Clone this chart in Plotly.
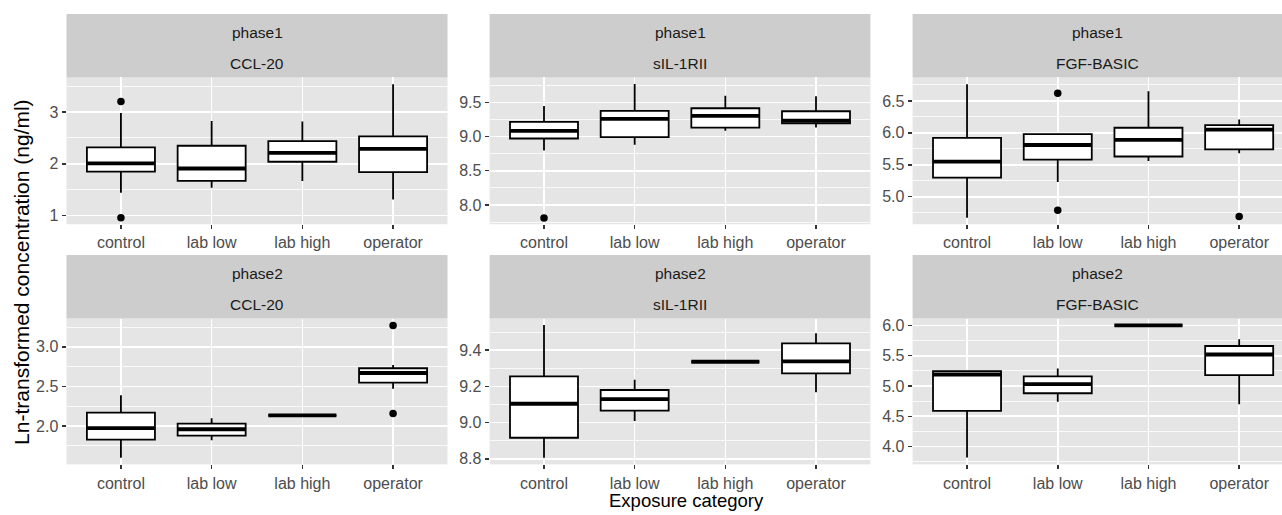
import plotly.graph_objects as go

W, H = 1282, 515

categories = ["control", "lab low", "lab high", "operator"]
cat_pos = [1, 2, 3, 4]

phases = ["phase1", "phase1", "phase1", "phase2", "phase2", "phase2"]
analytes = ["CCL-20", "sIL-1RII", "FGF-BASIC", "CCL-20", "sIL-1RII", "FGF-BASIC"]

# ---- box statistics per panel: [control, lab low, lab high, operator] ----
p1_lower = [1.44, 1.54, 1.67, 1.31]
p1_q1 = [1.85, 1.67, 2.04, 1.84]
p1_med = [2.01, 1.91, 2.21, 2.29]
p1_q3 = [2.32, 2.35, 2.44, 2.53]
p1_upper = [2.98, 2.83, 2.82, 3.54]
p1_out_x = ["control", "control"]
p1_out_y = [3.205, 0.96]

p2_lower = [8.796, 8.879, 9.083, 9.131]
p2_q1 = [8.971, 8.99, 9.131, 9.194]
p2_med = [9.083, 9.257, 9.301, 9.233]
p2_q3 = [9.214, 9.374, 9.413, 9.369]
p2_upper = [9.447, 9.767, 9.597, 9.587]
p2_out_x = ["control"]
p2_out_y = [7.81]

p3_lower = [4.67, 5.23, 5.56, 5.68]
p3_q1 = [5.30, 5.58, 5.63, 5.74]
p3_med = [5.55, 5.81, 5.89, 6.05]
p3_q3 = [5.92, 5.98, 6.08, 6.12]
p3_upper = [6.76, 5.98, 6.65, 6.21]
p3_out_x = ["lab low", "lab low", "operator"]
p3_out_y = [6.62, 4.79, 4.69]

p4_lower = [1.60, 1.82, 2.135, 2.47]
p4_q1 = [1.83, 1.88, 2.135, 2.55]
p4_med = [1.975, 1.96, 2.135, 2.67]
p4_q3 = [2.17, 2.03, 2.135, 2.73]
p4_upper = [2.39, 2.10, 2.135, 2.77]
p4_out_x = ["operator", "operator"]
p4_out_y = [3.27, 2.16]

p5_lower = [8.805, 9.009, 9.336, 9.168]
p5_q1 = [8.916, 9.066, 9.336, 9.272]
p5_med = [9.104, 9.13, 9.336, 9.338]
p5_q3 = [9.255, 9.18, 9.336, 9.438]
p5_upper = [9.539, 9.237, 9.336, 9.493]
p5_out_x = []
p5_out_y = []

p6_lower = [3.82, 4.74, 6.0, 4.70]
p6_q1 = [4.59, 4.88, 6.0, 5.18]
p6_med = [5.19, 5.03, 6.0, 5.52]
p6_q3 = [5.245, 5.16, 6.0, 5.66]
p6_upper = [5.26, 5.29, 6.0, 5.77]
p6_out_x = []
p6_out_y = []

# ---- y tick values / labels per panel ----
p1_ticks = [1, 2, 3]
p1_ticklabels = ["1", "2", "3"]
p2_ticks = [8.0, 8.5, 9.0, 9.5]
p2_ticklabels = ["8.0", "8.5", "9.0", "9.5"]
p3_ticks = [5.0, 5.5, 6.0, 6.5]
p3_ticklabels = ["5.0", "5.5", "6.0", "6.5"]
p4_ticks = [2.0, 2.5, 3.0]
p4_ticklabels = ["2.0", "2.5", "3.0"]
p5_ticks = [8.8, 9.0, 9.2, 9.4]
p5_ticklabels = ["8.8", "9.0", "9.2", "9.4"]
p6_ticks = [4.0, 4.5, 5.0, 5.5, 6.0]
p6_ticklabels = ["4.0", "4.5", "5.0", "5.5", "6.0"]

panels = [
    (p1_lower, p1_q1, p1_med, p1_q3, p1_upper, p1_out_x, p1_out_y, p1_ticks, p1_ticklabels),
    (p2_lower, p2_q1, p2_med, p2_q3, p2_upper, p2_out_x, p2_out_y, p2_ticks, p2_ticklabels),
    (p3_lower, p3_q1, p3_med, p3_q3, p3_upper, p3_out_x, p3_out_y, p3_ticks, p3_ticklabels),
    (p4_lower, p4_q1, p4_med, p4_q3, p4_upper, p4_out_x, p4_out_y, p4_ticks, p4_ticklabels),
    (p5_lower, p5_q1, p5_med, p5_q3, p5_upper, p5_out_x, p5_out_y, p5_ticks, p5_ticklabels),
    (p6_lower, p6_q1, p6_med, p6_q3, p6_upper, p6_out_x, p6_out_y, p6_ticks, p6_ticklabels),
]

# ---- layout geometry (pixels) ----
col_px = [(66.5, 447.5), (489.6, 870.4), (912.6, 1282.0)]
col_xrange = [[0.4, 4.6], [0.4, 4.6], [0.4, 4.472]]
row_plot_px = [(77, 225), (320, 467)]
row_strip_px = [(13, 77), (256, 320)]
y_ranges = [[0.833, 3.67], [7.718, 9.864], [4.569, 6.868],
            [1.517, 3.358], [8.769, 9.575], [3.706, 6.114]]

BOX_W = 0.75
FAMILY = "Liberation Sans, Arial, sans-serif"
TICK_FONT = dict(family=FAMILY, size=16, color="#4d4d4d")
STRIP_FONT = dict(family=FAMILY, size=15.5, color="#1a1a1a")
PANEL_BG = "#e5e5e5"
STRIP_BG = "#cdcdcd"


def px_x(v):
    return v / W


def px_y(v):
    return 1 - v / H


fig = go.Figure()
layout = {}
shapes = []
annotations = []

for i, (lo, q1, med, q3, up, ox, oy, ticks, ticklabels) in enumerate(panels):
    r, c = divmod(i, 3)
    sfx = "" if i == 0 else str(i + 1)
    xa, ya = "x" + sfx, "y" + sfx

    fig.add_trace(go.Box(
        x=cat_pos, q1=q1, median=med, q3=q3, lowerfence=lo, upperfence=up,
        width=BOX_W, whiskerwidth=0, boxpoints=False,
        fillcolor="white", line=dict(color="black", width=1.8),
        xaxis=xa, yaxis=ya, showlegend=False, hoverinfo="skip",
    ))
    # thick median line (ggplot fatten)
    mx, my = [], []
    for p, m in zip(cat_pos, med):
        mx += [p - BOX_W / 2, p + BOX_W / 2, None]
        my += [m, m, None]
    fig.add_trace(go.Scatter(
        x=mx, y=my, mode="lines", line=dict(color="black", width=3.8),
        xaxis=xa, yaxis=ya, showlegend=False, hoverinfo="skip",
    ))
    if ox:
        fig.add_trace(go.Scatter(
            x=[cat_pos[categories.index(k)] for k in ox], y=oy, mode="markers",
            marker=dict(color="black", size=7.5),
            xaxis=xa, yaxis=ya, showlegend=False, hoverinfo="skip",
        ))

    step = ticks[1] - ticks[0]
    minor_vals = [ticks[0] - step / 2] + [t + step / 2 for t in ticks]

    x0, x1 = col_px[c]
    ytop, ybot = row_plot_px[r]
    layout["xaxis" + sfx] = dict(
        domain=[px_x(x0), px_x(x1)], range=col_xrange[c], anchor=ya,
        tickmode="array", tickvals=cat_pos, ticktext=categories,
        showgrid=True, gridcolor="white", gridwidth=1.6, zeroline=False,
        ticks="outside", ticklen=4, tickwidth=1.5, tickcolor="#333333",
        tickfont=TICK_FONT, showline=False, fixedrange=True,
    )
    layout["yaxis" + sfx] = dict(
        domain=[px_y(ybot), px_y(ytop)], range=y_ranges[i], anchor=xa,
        tickmode="array", tickvals=ticks, ticktext=ticklabels,
        showgrid=True, gridcolor="white", gridwidth=1.6, zeroline=False,
        ticks="outside", ticklen=4, tickwidth=1.5, tickcolor="#333333",
        tickfont=TICK_FONT, showline=False, fixedrange=True,
        minor=dict(tickmode="array", tickvals=minor_vals, showgrid=True,
                   gridcolor="white", gridwidth=0.8, ticks=""),
    )

    s0, s1 = row_strip_px[r]
    shapes.append(dict(type="rect", xref="paper", yref="paper",
                       x0=px_x(x0), x1=px_x(x1), y0=px_y(s1), y1=px_y(s0),
                       fillcolor=STRIP_BG, line=dict(width=0), layer="below"))
    xc = px_x((x0 + x1) / 2)
    annotations.append(dict(text=phases[i], xref="paper", yref="paper", x=xc,
                            y=px_y(s0 + 19), showarrow=False, font=STRIP_FONT,
                            xanchor="center", yanchor="middle"))
    annotations.append(dict(text=analytes[i], xref="paper", yref="paper", x=xc,
                            y=px_y(s0 + 50), showarrow=False, font=STRIP_FONT,
                            xanchor="center", yanchor="middle"))

annotations.append(dict(text="Exposure category", xref="paper", yref="paper",
                        x=px_x(686), y=px_y(503), showarrow=False,
                        font=dict(family=FAMILY, size=18.5, color="black"),
                        xanchor="center", yanchor="middle"))
annotations.append(dict(text="Ln-transformed concentration (ng/ml)", xref="paper", yref="paper",
                        x=px_x(22), y=px_y(273), showarrow=False, textangle=-90,
                        font=dict(family=FAMILY, size=21, color="black"),
                        xanchor="center", yanchor="middle"))

fig.update_layout(
    width=W, height=H, autosize=False,
    margin=dict(l=0, r=0, t=0, b=0),
    paper_bgcolor="white", plot_bgcolor=PANEL_BG,
    shapes=shapes, annotations=annotations, showlegend=False,
    **layout,
)

fig.write_html("out.html", config={"displayModeBar": False, "staticPlot": True},
               post_script="document.body.style.margin='0px';document.body.style.overflow='hidden';")
